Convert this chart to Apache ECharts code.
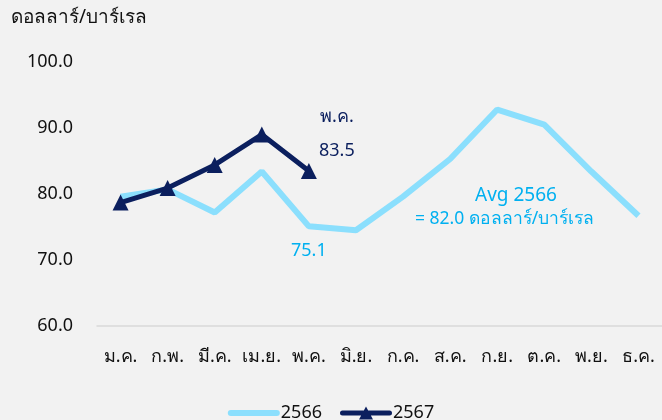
<!DOCTYPE html>
<html><head><meta charset="utf-8">
<script src="https://cdn.jsdelivr.net/npm/echarts@6/dist/echarts.min.js"></script>
<style>html,body{margin:0;padding:0;background:#F2F2F2;}#c{width:662px;height:420px;}</style>
</head><body><div id="c"></div>
<script>
const months = ['ม.ค.','ก.พ.','มี.ค.','เม.ย.','พ.ค.','มิ.ย.','ก.ค.','ส.ค.','ก.ย.','ต.ค.','พ.ย.','ธ.ค.'];
const y2566 = [79.6, 80.7, 77.2, 83.4, 75.1, 74.5, 79.6, 85.3, 92.8, 90.5, 83.4, 76.7];
const y2567 = [78.7, 80.9, 84.4, 89.0, 83.5];
const yTicks = {min: 60, max: 100, interval: 10};
const avgText = ['Avg 2566', '= 82.0 ดอลลาร์/บาร์เรล'];
const unit = 'ดอลลาร์/บาร์เรล';

const FONT = '"Noto Sans", "DejaVu Sans", sans-serif';
const C1 = '#8BDFFD', C2 = '#0B1F5E';
const chart = echarts.init(document.getElementById('c'), null, {renderer: 'canvas'});
chart.setOption({
  backgroundColor: '#F2F2F2',
  animation: false,
  textStyle: {fontFamily: FONT},
  grid: {left: 97, top: 62, width: 568, height: 264},
  legend: {
    bottom: -7, left: 'center', itemWidth: 52, itemHeight: 13, itemGap: 18,
    textStyle: {fontSize: 18, color: '#111', fontFamily: FONT, padding: [0,0,0,-4]},
    data: [
      {name: '2566', icon: 'path://M3,0 h46 a3,3 0 0 1 0,6 h-46 a3,3 0 0 1 0,-6 z', itemStyle: {color: C1}},
      {name: '2567', icon: 'path://M2.5,4 h47 a2.5,2.5 0 0 1 0,5 h-47 a2.5,2.5 0 0 1 0,-5 z M19,13 L26,0 L33,13 z', itemStyle: {color: C2}}
    ]
  },
  graphic: [
    {type: 'text', left: 11, top: 8, style: {text: unit, fontSize: 19, fill: '#111', fontFamily: FONT}},
    {type: 'text', x: 516, y: 196, style: {text: avgText[0], fontSize: 19, fill: '#00B0F0', align: 'center', verticalAlign: 'middle', fontFamily: FONT}},
    {type: 'text', x: 415, y: 219, style: {text: avgText[1], fontSize: 17.5, fill: '#00B0F0', align: 'left', verticalAlign: 'middle', fontFamily: FONT}}
  ],
  xAxis: {
    type: 'category', data: months, boundaryGap: true,
    axisLine: {lineStyle: {color: '#D9D9D9', width: 1.5}},
    axisTick: {show: false},
    axisLabel: {fontSize: 18, color: '#111', margin: 22, interval: 0, fontFamily: FONT}
  },
  yAxis: {
    type: 'value', min: yTicks.min, max: yTicks.max, interval: yTicks.interval,
    splitLine: {show: false}, axisLine: {show: false}, axisTick: {show: false},
    axisLabel: {fontSize: 18, color: '#111', margin: 24, formatter: v => v.toFixed(1), fontFamily: FONT}
  },
  series: [
    {
      name: '2566', type: 'line', data: y2566, symbol: 'none',
      lineStyle: {color: C1, width: 6}, itemStyle: {color: C1},
      z: 2,
      markPoint: {
        symbol: 'circle', symbolSize: 0,
        data: [{coord: [4, y2566[4]], value: y2566[4].toFixed(1)}],
        label: {show: true, position: 'bottom', distance: 16, fontSize: 18, color: '#00B0F0', fontFamily: FONT}
      }
    },
    {
      name: '2567', type: 'line', data: y2567.map((v, i) => i === 4 ? {value: v, label: {show: true}} : v),
      symbol: 'triangle', symbolSize: 16,
      lineStyle: {color: C2, width: 5}, itemStyle: {color: C2},
      z: 3,
      label: {show: false, position: 'inside', offset: [28, -37], formatter: p => p.name + '\n' + p.value.toFixed(1),
        fontSize: 18, lineHeight: 34, color: C2, align: 'center', fontFamily: FONT}
    }
  ]
});
</script></body></html>
